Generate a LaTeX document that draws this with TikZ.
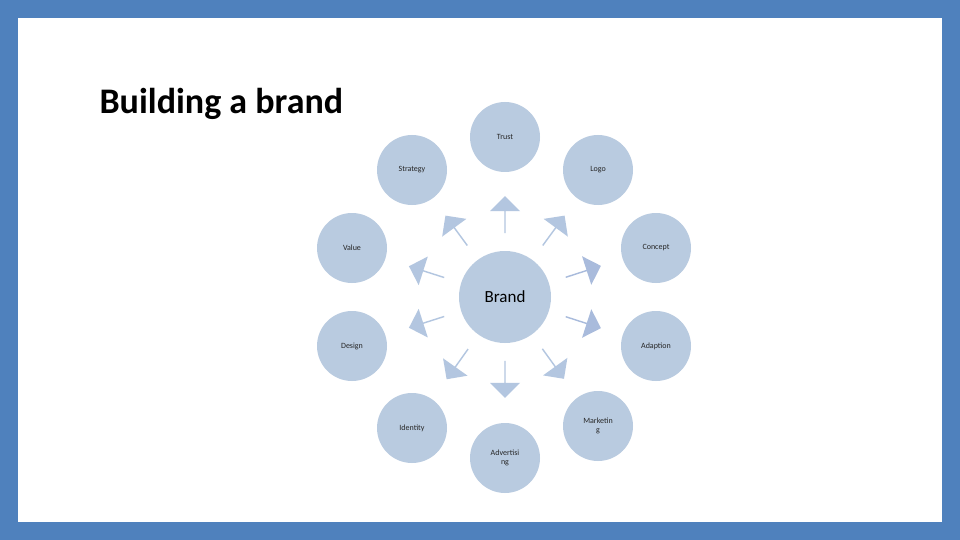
\documentclass[tikz,border=0pt]{standalone}
\usepackage{fontspec}
\setmainfont{Carlito}
\usetikzlibrary{shapes.arrows,calc}
\definecolor{frame}{HTML}{4F81BD}
\definecolor{circ}{HTML}{B9CBE0}
\definecolor{arr}{HTML}{B3C6E0}
\definecolor{arrd}{HTML}{A9BBDC}
\begin{document}
\begin{tikzpicture}[x=1pt,y=-1pt,
  outer/.style={circle,fill=circ,minimum size=70pt,inner sep=0pt,align=center,font=\fontsize{8}{9}\selectfont,text=black!85},
  blk/.style={single arrow,fill=#1,minimum height=37pt,minimum width=30pt,single arrow head extend=4pt,inner sep=0pt,anchor=center}]
\fill[frame] (0,0) rectangle (960,540);
\fill[white] (18,18) rectangle (942,522);
\node[anchor=base west,font=\fontsize{36}{40}\bfseries\selectfont] (title) at (96,114) {Building a brand};
\node[circle,fill=circ,minimum size=92pt,font=\fontsize{17}{20}\selectfont] (brand) at (505,297) {Brand};
\foreach \nm/\px/\py/\tx/\cl in {
 trust/505/137/Trust/arr, strategy/412/170/Strategy/arr, logo/598/170/Logo/arr,
 value/352/248/Value/arr, concept/656/248/Concept/arrd, design/352/346/Design/arr,
 adaption/656/346/Adaption/arrd, identity/412/428/Identity/arr,
 advert/505/458/{Advertisi\\ng}/arr, market/598/426/{Marketin\\g}/arr}{
  \node[outer] (\nm) at (\px,\py) {\tx};
  \pgfmathsetmacro{\ang}{atan2(297-\py,\px-505)}
  \node[blk=\cl,rotate=\ang] (a\nm) at ($(brand)!82pt!(\nm)$) {};
}
\end{tikzpicture}
\end{document}
